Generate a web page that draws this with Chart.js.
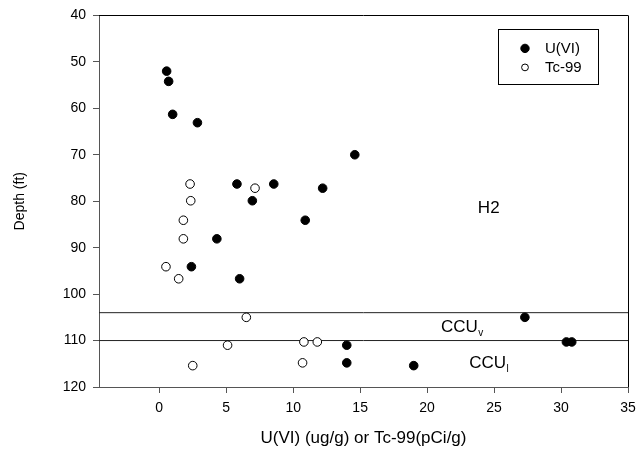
<!DOCTYPE html>
<html>
<head>
<meta charset="utf-8">
<script src="https://cdn.jsdelivr.net/npm/chart.js@4.4.0/dist/chart.umd.min.js"></script>
<style>
  html, body { margin: 0; padding: 0; background: #fff; }
  #wrap { width: 637px; height: 449px; }
</style>
</head>
<body>
<div id="wrap"><canvas id="depthChart"></canvas></div>
<script>
// values
const uviX   = [0.55, 0.7, 1.0, 2.85, 14.6, 5.8, 8.55, 12.2, 6.95, 10.9, 4.3, 2.4, 6.0, 27.3, 14.0, 30.4, 30.8, 14.0, 19.0];
const uviY   = [52, 54.2, 61.3, 63.1, 70, 76.3, 76.3, 77.2, 79.9, 84.1, 88.1, 94.1, 96.7, 105, 111, 110.3, 110.3, 114.8, 115.4];
const tcX    = [2.3, 7.15, 2.35, 1.8, 1.8, 0.5, 1.45, 6.5, 5.1, 10.8, 11.8, 10.7, 2.5];
const tcY    = [76.3, 77.2, 79.9, 84.1, 88.1, 94.1, 96.7, 105, 111, 110.3, 110.3, 114.8, 115.4];
const boundaryDepths = [104, 110];
const xTicks = [0, 5, 10, 15, 20, 25, 30, 35];
const yTicks = [40, 50, 60, 70, 80, 90, 100, 110, 120];
const xRange = [-4.5, 35];
const yRange = [40, 120];

const zoneLabels = [
    { text: 'H2',  sub: '',  x: 24.6, y: 81.5 },
    { text: 'CCU', sub: 'v', x: 22.6, y: 107.1 },
    { text: 'CCU', sub: 'l', x: 24.6, y: 114.8 }
];

const FONT = "'Liberation Sans', Arial, sans-serif";

const toPts = (xs, ys) => xs.map((x, i) => ({ x: x, y: ys[i] }));

let datasets = [
    {
        label: 'U(VI)',
        data: toPts(uviX, uviY),
        showLine: false,
        pointRadius: 4.3,
        pointBackgroundColor: '#000',
        pointBorderColor: '#000',
        pointBorderWidth: 1
    },
    {
        label: 'Tc-99',
        data: toPts(tcX, tcY),
        showLine: false,
        pointRadius: 4.3,
        pointBackgroundColor: '#fff',
        pointBorderColor: '#000',
        pointBorderWidth: 1
    }
];

boundaryDepths.forEach(d => {
    datasets.push({
        label: 'boundary',
        data: [{ x: xRange[0], y: d }, { x: xRange[1], y: d }],
        showLine: true,
        borderColor: '#222',
        borderWidth: 1,
        pointRadius: 0
    });
});

const framePlugin = {
    id: 'frame',
    afterDatasetsDraw(chart) {
        const ctx = chart.ctx;
        const a = chart.chartArea;
        const xs = chart.scales.x, ys = chart.scales.y;
        ctx.save();
        // top and right frame
        ctx.strokeStyle = '#000';
        ctx.lineWidth = 1;
        ctx.beginPath();
        ctx.moveTo(a.left, Math.round(a.top) + 0.5);
        ctx.lineTo(a.right, Math.round(a.top) + 0.5);
        ctx.moveTo(Math.round(a.right) + 0.5, a.top);
        ctx.lineTo(Math.round(a.right) + 0.5, a.bottom);
        ctx.stroke();

        // zone labels
        ctx.fillStyle = '#000';
        ctx.textBaseline = 'middle';
        zoneLabels.forEach(z => {
            const px = xs.getPixelForValue(z.x);
            const py = ys.getPixelForValue(z.y);
            ctx.font = '17px ' + FONT;
            const w = ctx.measureText(z.text).width;
            ctx.font = '10px ' + FONT;
            const sw = z.sub ? ctx.measureText(z.sub).width : 0;
            const left = px - (w + sw) / 2;
            ctx.font = '17px ' + FONT;
            ctx.textAlign = 'left';
            ctx.fillText(z.text, left, py);
            if (z.sub) {
                ctx.font = '10px ' + FONT;
                ctx.fillText(z.sub, left + w + 0.5, py + 6);
            }
        });

        // legend box
        const bx = a.right - 130, by = a.top + 14, bw = 100, bh = 55;
        ctx.strokeStyle = '#000';
        ctx.strokeRect(Math.round(bx) + 0.5, Math.round(by) + 0.5, bw, bh);
        ctx.font = '15px ' + FONT;
        const items = [
            { label: datasets[0].label, fill: '#000', r: 4.2, y: by + 19 },
            { label: datasets[1].label, fill: '#fff', r: 3.4, y: by + 38 }
        ];
        items.forEach(it => {
            ctx.beginPath();
            ctx.arc(bx + 27, it.y, it.r, 0, Math.PI * 2);
            ctx.fillStyle = it.fill;
            ctx.fill();
            ctx.strokeStyle = '#000';
            ctx.stroke();
            ctx.fillStyle = '#000';
            ctx.textAlign = 'left';
            ctx.fillText(it.label, bx + 47, it.y);
        });
        ctx.restore();
    }
};

new Chart(document.getElementById('depthChart').getContext('2d'), {
    type: 'scatter',
    data: { datasets: datasets },
    options: {
        responsive: true,
        maintainAspectRatio: false,
        animation: false,
        layout: { padding: { top: 15, right: 9, left: 0, bottom: 0 } },
        plugins: {
            legend: { display: false },
            tooltip: { enabled: false }
        },
        scales: {
            x: {
                type: 'linear',
                min: xRange[0],
                max: xRange[1],
                afterBuildTicks: s => { s.ticks = xTicks.map(v => ({ value: v })); },
                afterFit: s => { s.height = 62; s.paddingRight = 0; s.paddingLeft = 0; },
                grid: { drawOnChartArea: false, drawTicks: true, tickLength: 6, color: '#555' },
                border: { color: '#555', width: 1 },
                ticks: { color: '#000', font: { family: FONT, size: 14 }, padding: 7, maxRotation: 0 },
                title: { display: true, text: 'U(VI) (ug/g) or Tc-99(pCi/g)', color: '#000', font: { family: FONT, size: 17 }, padding: { top: 2, bottom: 0 } }
            },
            y: {
                type: 'linear',
                reverse: true,
                min: yRange[0],
                max: yRange[1],
                afterBuildTicks: s => { s.ticks = yTicks.map(v => ({ value: v })); },
                afterFit: s => { s.width = 99; },
                grid: { drawOnChartArea: false, drawTicks: true, tickLength: 6, color: '#555' },
                border: { color: '#555', width: 1 },
                ticks: { color: '#000', font: { family: FONT, size: 14 }, padding: 7 },
                title: { display: true, text: 'Depth (ft)', color: '#000', font: { family: FONT, size: 14 }, padding: { top: 12, bottom: 0 } }
            }
        }
    },
    plugins: [framePlugin]
});
</script>
</body>
</html>
